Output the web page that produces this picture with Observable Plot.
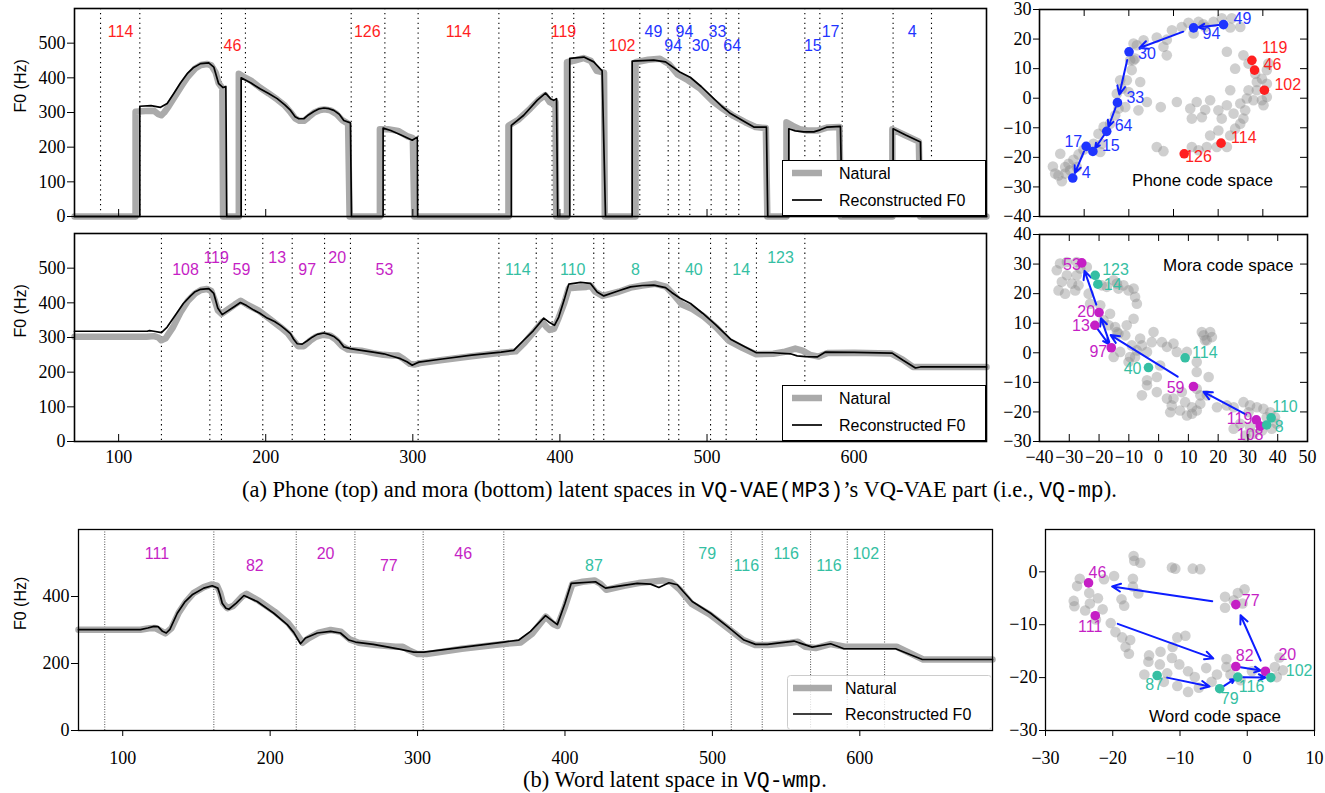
<!DOCTYPE html>
<html><head><meta charset="utf-8">
<script src="https://cdn.jsdelivr.net/npm/d3@7"></script>
<script src="https://cdn.jsdelivr.net/npm/@observablehq/plot@0.6"></script>
<style>
body{margin:0;background:#fff;}
#root{position:relative;width:1325px;height:793px;overflow:hidden;background:#fff;}
.pn{position:absolute;}
.cap{position:absolute;white-space:nowrap;font-family:'Liberation Serif',serif;font-size:22.5px;line-height:26px;color:#000;}
.tt{font-family:'Liberation Mono',monospace;font-size:21.5px;}
</style></head><body>
<div id="root"></div>
<script>
// ---------------- DATA ----------------
const f0Domain = [70, 690];
const f0Ticks = [100, 200, 300, 400, 500, 600];

// Phone panel F0 (frame, Hz)
const phoneNatural = [[70,0],[111.5,0],[111.5,302],[118,304],[124,305],[127,295],[129,292],[131,300],[134,318],[138,345],[143,378],[147,403],[152,427],[156,437],[160,440],[163,436],[166,415],[168,385],[170.5,370],[171,0],[181.7,0],[181.7,412],[185,403],[190,392],[196,372],[202,355],[208,337],[213,320],[217,300],[220,283],[223,276],[226,276],[229,286],[233,300],[237,307],[240,309],[244,306],[248,296],[252,278],[256,268],[257,0],[277.6,0],[277.6,252],[283,252],[290,247],[296,232],[300,226],[301,0],[365,0],[365,262],[372,280],[380,312],[386,338],[390,350],[393,330],[395.5,325],[397,330],[397.5,0],[404.8,0],[404.8,445],[410,450],[416,457],[421,449],[425,420],[430,415],[430.5,0],[451.4,0],[451.4,445],[460,452],[468,455],[474,440],[480,410],[487,393],[495,370],[504,332],[511,310],[518,290],[526,272],[533,258],[540,255],[541,0],[554,0],[554,272],[558,262],[563,252],[568,248],[575,248],[582,257],[590,258],[591,0],[626,0],[626,252],[634,236],[644,216],[645,0],[690,0]];
const phoneRecon = [[70,0],[114.4,0],[114.4,318],[122,320],[128.5,315],[133,326],[137.5,355],[142,385],[146.6,412],[151,430],[155.7,441],[161.3,443],[164.7,431],[168,383],[171,372],[172.9,375],[173.5,0],[183.3,0],[183.3,400],[190,385],[196.4,368],[202,355],[207.8,340],[213,322],[216.9,306],[220,288],[222.5,282],[225.9,282],[229,293],[232.7,303],[236,310],[239.5,313],[243,311],[246.3,306],[250,295],[253.1,277],[257.6,270],[258.3,0],[279.8,0],[279.8,255],[285,248],[292,235],[299.6,220],[303,229],[303.3,0],[367,0],[367,263],[375.4,292],[384.5,335],[390.2,356],[393.6,340],[395.8,335],[397.7,340],[398.5,0],[406.7,0],[406.7,456],[416.3,460],[423,446],[428.7,420],[431,0],[449.1,0],[449.1,448],[463.8,451],[471.8,446],[481.5,417],[488.8,401],[496,375],[504.6,340],[510,318],[516,297],[525,275],[531.8,258],[540.4,258],[541.3,0],[555.6,0],[555.6,253],[560,247],[565.8,244],[572.6,244],[577,250],[581.7,258],[590.7,260],[591.9,0],[626.5,0],[626.5,253],[635,235],[645.1,215],[646,0],[690,0]];
const phoneBounds = [87.7,114.4,169.9,186.2,258.1,281,303.6,358.5,394.7,409.4,429.8,454.3,473.6,480.8,488.3,502.8,513,521.6,566.5,576.7,591.9,626.5,652.6];
const phoneSegLabels = ["114","46","126","114","119","102","49","94","94","30","33","64","15","17","4"];
const phoneSegX = [101.3,177.4,269,331,402.4,442.3,463.6,477,484.7,495.6,507.1,517.1,571.9,584,639.5];
const phoneSegY = [532,491,532,532,532,491,532,491,532,491,532,491,491,532,532];
const phoneSegGroup = ["r","r","r","r","r","r","b","b","b","b","b","b","b","b","b"];

// Mora panel F0
const moraNatural = [[70,302],[119,302],[124,304],[127,300],[129,292],[132,298],[137,330],[142,372],[147,405],[152,427],[156,437],[160,440],[163,434],[165.5,405],[167.5,378],[170,368],[174,380],[179,395],[183,406],[188,393],[195,378],[202,356],[210,330],[215,312],[219,290],[222,275],[226,275],[230,290],[234,302],[239,308],[244,305],[248,293],[252,275],[256,265],[265,262],[273,255],[280,250],[286,248],[290,248],[294,237],[298,224],[301,222],[305,226],[320,235],[340,246],[360,256],[370,260],[376,285],[382,315],[388,345],[391,330],[393,322],[396,325],[399,355],[403,400],[406,442],[412,444],[418,446],[421,449],[424,432],[429,420],[440,432],[448,444],[456,450],[465,455],[472,447],[477,425],[483,395],[490,382],[498,360],[506,330],[515,290],[524,270],[533,252],[545,253],[552,258],[560,268],[565,262],[570,250],[576,245],[582,255],[600,256],[625,254],[633,236],[640,215],[690,215]];
const moraRecon = [[70,318],[119.4,318],[121,320],[124,318],[129.1,314],[133,330],[139.8,372],[144,398],[148.9,420],[152,432],[155.7,439],[161.3,441],[164.7,427],[167.4,385],[170.4,366],[174,376],[178.3,388],[182.8,401],[187,392],[191.9,379],[196,370],[201,356],[206,346],[210,335],[213,325],[216.8,311],[219,295],[221.4,282],[224.8,281],[228,290],[231.6,301],[235,309],[239.5,313],[243,309],[246.3,303],[250,290],[253.1,273],[257.6,268],[265,263],[273,258],[280.3,253],[286,246],[291.6,239],[296,230],[299.6,220],[302,225],[304.1,229],[320,238],[340,249],[360,258],[368.6,263],[375.4,292],[382,320],[389,356],[392.4,345],[396.3,335],[399.2,359],[403,410],[406,454],[414,459],[420.8,456],[425.3,431],[429.8,420],[440,435],[448,446],[456,450],[463.8,451],[471.8,444],[476,430],[481.5,414],[488.8,398],[497,370],[505.8,337],[516,295],[525,275],[533.6,256],[545,256],[556.7,253],[561.3,247],[567,245],[574.9,244],[580.5,258],[600,257],[625.9,255],[633,235],[641.7,212],[645.1,215],[690,215]];
const moraBounds = [129.1,162,169.9,198,218,240,257.6,303.6,358.5,383.9,394.7,423,429.8,474,480.8,502.4,513,533.6,566.5];
const moraSegLabels = ["108","119","59","13","97","20","53","114","110","8","40","14","123"];
const moraSegX = [145.5,166.3,183.5,207.8,228.2,248.6,280.7,371.4,408.7,451.4,491,523.2,550];
const moraSegY = [494,531,494,531,494,531,494,494,494,494,494,494,531];
const moraSegGroup = ["m","m","m","m","m","m","m","t","t","t","t","t","t"];

// Word panel F0
const wordNatural = [[70,301],[112,301],[118,305],[122,306],[126,297],[129,290],[133,305],[138,352],[143,385],[148,410],[155,428],[160,436],[164,432],[166,412],[168,380],[171,365],[175,372],[181,400],[184,408],[192,388],[203,355],[212,322],[218,288],[222,262],[226,275],[233,292],[241,300],[248,295],[254,272],[260,262],[272,255],[285,250],[290,250],[294,240],[300,228],[306,228],[330,244],[358,258],[370,263],[378,290],[387,340],[392,318],[395,312],[400,370],[405,437],[412,444],[420,448],[424,438],[428,420],[440,432],[450,440],[460,445],[466,448],[472,443],[478,420],[486,378],[498,347],[510,307],[521,270],[529,255],[538,255],[553,262],[558,265],[563,250],[570,246],[580,258],[590,250],[625,250],[643,212],[690,212]];
const wordRecon = [[70,301],[112,301],[117,306],[121.1,311],[124,310],[127,296],[129.5,291],[132,302],[137,350],[142,383],[147.1,405],[155,425],[160.7,432],[164.5,425],[166,405],[167.5,380],[170,365],[172,362],[177,380],[182.2,403],[191.2,385],[202.5,350],[211.6,316],[216,293],[220.6,259],[224,276],[232,291],[241,296],[247.7,291],[253.4,270],[257.9,264],[270,257],[288.5,242],[297.5,234],[304.3,234],[330,248],[358.5,264],[368.7,270],[376.6,296],[386.8,343],[394.8,316],[400,380],[404.2,439],[420.7,444],[427.5,425],[449,439],[458.1,437],[463.7,427],[470.5,441],[476.2,435],[486.3,385],[498.8,350],[510.1,311],[521.4,270],[529.3,257],[537.2,257],[555.3,267],[560,260],[567.7,249],[580.2,259],[589.2,244],[624.3,244],[642.4,212],[690,212]];
const wordBounds = [87.8,161.8,217.7,257.5,303.8,358.5,480.6,512.8,533.8,566.6,591.5,616.8];
const wordSegLabels = ["111","82","20","77","46","87","79","116","116","116","102"];
const wordSegX = [123.2,189.6,237.6,280.5,331,419.6,496.5,523,550.1,579.1,604];
const wordSegY = [528,491,528,491,528,491,528,491,528,491,528];
const wordSegGroup = ["m","m","m","m","m","t","t","t","t","t","t"];

// Phone code space
const phoneGray = [[2.1,18.5],[6.6,19.6],[12.5,20.5],[17.0,19.8],[15.5,17.4],[17.0,14.5],[19.3,23.0],[23.7,24.1],[26.7,25.5],[29.0,21.9],[31.2,25.8],[34.2,24.1],[37.9,25.8],[41.6,27.0],[46.1,27.0],[49.9,24.1],[45.4,23.9],[33.4,25.0],[2.8,13.4],[3.6,17.9],[0.6,12.8],[1.3,9.5],[-0.9,6.1],[-3.1,3.2],[-5.4,1.5],[5.1,5.5],[8.1,-1.3],[4.3,-4.1],[-1.6,-3.0],[-6.1,-5.8],[-8.4,-8.6],[-11.3,-9.7],[-13.6,-12.0],[-12.1,-15.4],[-15.8,-15.4],[-12.8,-18.2],[-20.3,-17.4],[-22.5,-19.0],[-24.8,-20.8],[-27.0,-22.2],[-30.7,-18.8],[-34.0,-23.1],[-33.0,-25.5],[-30.0,-28.1],[-28.5,-25.5],[-26.3,-24.4],[-23.3,-23.3],[-31.5,-26.1],[-28.5,-23.3],[-3.9,6.1],[2.1,12.8],[-0.1,2.1],[-4.6,-3.5],[14.3,-3.0],[21.5,-1.3],[27.5,-3.5],[28.2,-6.9],[30.4,-1.3],[32.7,-6.4],[36.4,-0.7],[34.2,-3.9],[40.1,-4.1],[41.6,-6.9],[36.4,-12.6],[40.1,-10.9],[45.4,-12.6],[47.6,-10.3],[49.9,-8.6],[51.3,-6.9],[52.1,-4.1],[49.9,-1.8],[45.4,2.7],[47.6,10.0],[43.9,15.7],[51.3,14.5],[53.6,11.7],[56.6,8.3],[57.3,5.5],[59.6,6.6],[61.8,9.5],[62.5,11.7],[61.8,4.9],[57.3,2.7],[59.6,-0.7],[60.3,-2.4],[55.8,-0.7],[53.6,2.7],[52.8,-0.1],[46.9,-5.2],[43.9,-2.4],[39.4,-16.5],[43.9,-16.5],[34.9,-16.5],[31.2,-17.6],[28.2,-16.5],[12.5,-16.5],[15.5,-17.9],[61.8,0.4]];
const phoneCodes = ["49","94","30","33","64","15","17","4","119","46","102","114","126"];
const phoneCodeX = [42.4,29.0,0.1,-5.1,-9.9,-16.1,-19.1,-25.1,55.1,56.3,60.7,41.3,24.8];
const phoneCodeY = [24.9,23.8,15.7,-1.5,-11.2,-18.0,-16.3,-27.0,12.8,9.5,2.7,-15.2,-18.8];
const phoneCodeGroup = ["b","b","b","b","b","b","b","b","r","r","r","r","r"];
const phonePaths = [["49","94","94","30","33","64","15","17","4"]];

// Mora code space
const moraGray = [[-33.1,30.2],[-30.8,30.7],[-27.5,30.7],[-24.1,29.0],[-34.2,27.9],[-30.8,26.2],[-27.5,26.2],[-32.5,24.0],[-29.1,23.4],[-26.9,22.8],[-33.6,21.1],[-31.4,20.0],[-28.0,21.1],[-23.5,20.0],[-23.0,16.6],[-19.6,16.1],[-26.3,28.5],[-19.1,22.8],[-17.4,22.3],[-15.1,24.5],[-13.5,21.7],[-11.8,22.8],[-10.1,21.1],[-8.4,21.7],[-7.9,18.9],[-7.3,16.6],[-8.4,11.5],[-14.0,23.4],[-16.8,9.3],[-14.6,8.7],[-13.5,6.5],[-10.7,9.3],[-11.2,5.9],[-9.0,2.5],[-6.2,4.8],[-12.9,0.3],[-15.1,-1.4],[-9.6,-1.4],[-10.1,-3.1],[-7.3,0.8],[-3.9,0.3],[-5.6,2.5],[-1.7,7.0],[1.1,3.6],[-2.3,3.6],[5.0,3.1],[2.8,2.0],[6.1,0.3],[9.5,0.3],[12.8,-3.1],[12.8,-6.5],[16.8,-8.2],[15.1,5.9],[16.2,4.2],[17.3,7.0],[14.5,7.0],[17.9,5.3],[15.6,4.2],[0.5,-4.3],[-0.6,-8.2],[-3.9,-9.3],[-3.9,-11.0],[-5.6,-14.4],[-0.6,-13.3],[2.8,-15.5],[4.4,-17.8],[5.0,-15.5],[7.8,-13.3],[8.9,-16.7],[7.2,-19.5],[3.9,-20.1],[11.2,-18.4],[11.2,-20.6],[9.5,-21.2],[12.8,-19.5],[14.0,-17.2],[14.0,-14.4],[16.2,-14.4],[12.8,-12.2],[19.6,-18.4],[22.9,-17.8],[25.2,-18.4],[28.5,-16.7],[30.7,-17.8],[33.0,-18.4],[35.2,-18.9],[37.5,-20.1],[39.1,-21.8],[39.7,-24.0],[36.3,-21.8],[30.2,-20.1],[27.4,-24.0],[25.2,-25.7],[30.7,-25.1],[34.7,-26.3],[38.0,-25.7],[31.9,-27.4],[29.1,-28.0],[-16.3,13.2],[-18.5,11.0],[-14.0,7.0],[-7.9,-1.4]];
const moraCodes = ["53","20","13","97","59","119","108","123","14","114","40","110","8"];
const moraCodeX = [-25.8,-20.0,-21.4,-15.9,11.7,32.8,34.1,-21.3,-20.4,8.9,-3.4,37.8,36.3];
const moraCodeY = [30.4,13.6,9.3,1.7,-11.4,-22.7,-24.8,26.2,23.2,-1.7,-5.0,-22.0,-24.4];
const moraCodeGroup = ["m","m","m","m","m","m","m","t","t","t","t","t","t"];
const moraPaths = [["108","119","59","13","97","20","53"]];

// Word code space
const wordGray = [[-16.9,3.0],[-16.8,2.1],[-15.9,1.7],[-11.2,0.8],[-10.7,0.6],[-8.1,0.6],[-7.0,0.5],[-19.8,-0.8],[-21.3,-1.4],[-24.9,-1.3],[-25.3,-2.7],[-25.8,-5.5],[-25.7,-6.5],[-24.1,-7.3],[-23.4,-6.0],[-22.2,-5.0],[-21.5,-7.1],[-18.7,-5.2],[-18.3,-6.4],[-17.0,-1.3],[-17.0,-2.8],[-16.2,-4.1],[-23.5,-4.0],[-20.3,-9.7],[-19.6,-11.4],[-18.6,-12.4],[-17.4,-12.9],[-18.1,-14.2],[-17.6,-15.5],[-14.6,-15.8],[-14.7,-17.0],[-12.9,-15.1],[-13.0,-17.5],[-11.2,-16.3],[-10.1,-17.5],[-10.4,-12.4],[-9.2,-12.1],[-11.1,-14.2],[-15.3,-19.4],[-11.9,-19.2],[-12.4,-20.8],[-10.4,-21.6],[-8.8,-18.8],[-8.8,-22.7],[-7.2,-21.9],[-7.8,-19.9],[-6.1,-18.2],[-5.3,-20.8],[-4.5,-19.4],[-3.1,-16.5],[-3.1,-18.0],[-2.5,-19.4],[0.7,-18.8],[4.1,-18.0],[4.8,-16.2],[5.3,-18.6],[4.4,-19.9],[-3.3,-4.7],[-3.3,-6.8],[-1.4,-4.0],[-0.4,-3.3],[-0.7,-6.0],[-2.0,-5.4],[-22.5,-9.0],[-1.0,-20.5]];
const wordCodes = ["46","111","77","82","20","87","79","116","102"];
const wordCodeX = [-23.6,-22.6,-1.7,-1.7,2.7,-13.4,-4.1,-1.4,3.5];
const wordCodeY = [-2.1,-8.3,-6.2,-17.9,-18.8,-19.6,-22.1,-19.9,-20.0];
const wordCodeGroup = ["m","m","m","m","m","t","t","t","t"];
const wordPaths = [["111","82","20","77","46"],["87","79","116","116","116","102"]];

// ---------------- STYLE ----------------
const SERIF = "'Liberation Serif','DejaVu Serif',serif";
const SANS = "'Liberation Sans',Arial,sans-serif";
const COLORS = {r: "#ff1f1f", b: "#1f35ff", m: "#c51fc5", t: "#35bfa3"};
const ARROW = "#0d1dff";
const minus = d => (d < 0 ? "\u2212" + Math.abs(d) : String(d));

// per-label offsets for scatter annotations (layout only)
const phoneLbl = {dx:[10,9,9,9,8,9,-4,9,10,9,10,10,1], dy:[-6,6,2,-5,-5,-6,-5,-5,-12,-5,-5,-5,3],
  anchor:["start","start","start","start","start","start","end","start","start","start","start","start","start"]};
const moraLbl = {dx:[-1,-4,-5,-4,-9,-4,-10,7,6,7,-7,1,8], dy:[2,-1,1,4,1,-1,9,-5,1,-5,1,-11,2],
  anchor:["end","end","end","end","end","end","middle","start","start","start","end","start","start"]};
const wordLbl = {dx:[0,-5,6,0,13,-3,10,1,15], dy:[-10,11,-4,-11,-16,9,10,10,-7],
  anchor:["start","middle","start","start","start","middle","middle","start","start"]};

const root = document.getElementById("root");
function place(el, left, top) {
  const d = document.createElement("div");
  d.className = "pn"; d.style.left = left + "px"; d.style.top = top + "px";
  d.appendChild(el); root.appendChild(d); return d;
}

function f0Panel(o) {
  const fw = o.width - o.mL - o.mR, fh = o.height - o.mT - o.mB;
  const segs = o.segLabels.map((t, i) => ({t, x: o.segX[i], y: o.segY[i], c: COLORS[o.segGroup[i]]}));
  const marks = [
    Plot.ruleX(o.bounds, {x: d => d, stroke: o.fine ? "#222" : "#000", strokeWidth: o.fine ? 0.8 : 1.1,
      strokeDasharray: o.fine ? "1,1.5" : "1.3,3.6"}),
    Plot.line(o.natural, {x: d => d[0], y: d => d[1], stroke: "#aaaaaa", strokeWidth: 6.5, strokeLinejoin: "round"}),
    Plot.line(o.recon, {x: d => d[0], y: d => d[1], stroke: "#000", strokeWidth: 1.7, strokeLinejoin: "round"}),
    Plot.text(segs, {x: "x", y: "y", text: "t", fill: "c", fontFamily: SANS, fontSize: 16}),
    Plot.axisY({ticks: o.yTicks, tickSize: 7, tickPadding: 2, fontSize: 18, fontFamily: SERIF, label: null}),
    Plot.text(["F0 (Hz)"], {frameAnchor: "left", dx: o.labelDx, rotate: -90, fontFamily: SANS, fontSize: 16}),
    Plot.frame({stroke: "#000", strokeWidth: o.fine ? 1.3 : 1.6})
  ];
  if (o.outTicks) {
    marks.push(Plot.axisX({ticks: f0Ticks, tickSize: 6, tickPadding: 15, fontSize: 18, fontFamily: SERIF, label: null}));
  } else {
    marks.push(Plot.tickX(f0Ticks, {x: d => d, insetTop: fh - 7, stroke: "#000"}));
    if (o.xLabels) marks.push(Plot.axisX({ticks: f0Ticks, tickSize: 0, tickPadding: 9, fontSize: 18, fontFamily: SERIF, label: null}));
  }
  return Plot.plot({
    width: o.width, height: o.height, marginLeft: o.mL, marginRight: o.mR, marginTop: o.mT, marginBottom: o.mB,
    x: {domain: f0Domain, axis: null}, y: {domain: [0, 600], axis: null}, color: {type: "identity"},
    style: {background: "transparent", fontFamily: SERIF, fontSize: "18px", overflow: "visible"},
    marks
  });
}

function arrowSegs(paths, codes, xs, ys, shrink) {
  const out = [];
  for (const p of paths) for (let i = 0; i < p.length - 1; i++) {
    const a = codes.indexOf(p[i]), b = codes.indexOf(p[i + 1]);
    if (a === b) continue;
    const dx = xs[b] - xs[a], dy = ys[b] - ys[a];
    out.push({x1: xs[a] + dx * shrink, y1: ys[a] + dy * shrink, x2: xs[b] - dx * shrink, y2: ys[b] - dy * shrink});
  }
  return out;
}

function scatterPanel(o) {
  const fw = o.width - o.mL - o.mR, fh = o.height - o.mT - o.mB;
  const pts = o.codes.map((c, i) => ({c, x: o.cx[i], y: o.cy[i], col: COLORS[o.cg[i]]}));
  const marks = [
    Plot.dot(o.gray, {x: d => d[0], y: d => d[1], r: 5.3, fill: "#8c8c8c", fillOpacity: 0.42, stroke: "none"}),
    Plot.arrow(arrowSegs(o.paths, o.codes, o.cx, o.cy, 0.16), {x1: "x1", y1: "y1", x2: "x2", y2: "y2",
      stroke: ARROW, strokeWidth: 2, headLength: 7, headAngle: 50}),
  ];
  pts.forEach((p, i) => {
    marks.push(Plot.text([p], {x: "x", y: "y", text: "c", fill: "col", dx: o.lbl.dx[i], dy: o.lbl.dy[i],
      textAnchor: o.lbl.anchor[i], fontFamily: SANS, fontSize: 16}));
  });
  marks.push(Plot.dot(pts, {x: "x", y: "y", r: 4.8, fill: "col", stroke: "none"}));
  marks.push(Plot.text([o.title], {frameAnchor: o.titleAnchor, textAnchor: o.titleTextAnchor, dx: o.titleDx, dy: o.titleDy,
    fontFamily: SANS, fontSize: 17, fill: "#000"}));
  marks.push(Plot.axisY({ticks: o.yTicks, tickSize: 6, tickPadding: 2, tickFormat: minus, fontSize: 18, fontFamily: SERIF, label: null}));
  if (o.inner) {
    marks.push(Plot.tickX(o.xTicks, {x: d => d, insetTop: fh - 7, stroke: "#000"}));
    marks.push(Plot.tickX(o.xTicks, {x: d => d, insetBottom: fh - 7, stroke: "#000"}));
    marks.push(Plot.tickY(o.yTicks, {y: d => d, insetLeft: fw - 7, stroke: "#000"}));
    if (o.xLabels) marks.push(Plot.axisX({ticks: o.xTicks, tickSize: 0, tickPadding: 9, tickFormat: minus, fontSize: 18, fontFamily: SERIF, label: null}));
  } else {
    marks.push(Plot.axisX({ticks: o.xTicks, tickSize: 6, tickPadding: 15, tickFormat: minus, fontSize: 18, fontFamily: SERIF, label: null}));
  }
  marks.push(Plot.frame({stroke: "#000", strokeWidth: o.inner ? 1.6 : 1.3}));
  return Plot.plot({
    width: o.width, height: o.height, marginLeft: o.mL, marginRight: o.mR, marginTop: o.mT, marginBottom: o.mB,
    x: {domain: o.xDomain, axis: null}, y: {domain: o.yDomain, axis: null}, color: {type: "identity"},
    style: {background: "transparent", fontFamily: SERIF, fontSize: "18px", overflow: "visible"},
    marks
  });
}

function legend(left, top, w, h, light) {
  const ns = "http://www.w3.org/2000/svg";
  const svg = document.createElementNS(ns, "svg");
  svg.setAttribute("width", w); svg.setAttribute("height", h);
  const l0 = light ? 6 : 10, l1 = light ? 45 : 40, tx = light ? 58 : 57;
  const r1 = 13, r2 = light ? 39 : 40;
  svg.innerHTML =
    `<rect x="0.5" y="0.5" width="${w - 1}" height="${h - 1}" rx="${light ? 3 : 0}" fill="${light ? "rgba(255,255,255,0.8)" : "#fff"}" stroke="${light ? "#cccccc" : "#000"}" stroke-width="1"/>` +
    `<line x1="${l0}" x2="${l1}" y1="${r1}" y2="${r1}" stroke="#aaaaaa" stroke-width="6.5"/>` +
    `<line x1="${l0}" x2="${l1}" y1="${r2}" y2="${r2}" stroke="#000" stroke-width="1.7"/>` +
    `<text x="${tx}" y="${r1}" dy="0.35em" font-family="${SANS}" font-size="16">Natural</text>` +
    `<text x="${tx}" y="${r2}" dy="0.35em" font-family="${SANS}" font-size="16">Reconstructed F0</text>`;
  place(svg, left, top);
}

// ---------------- PANELS ----------------
place(f0Panel({width: 1000, height: 235, mL: 74, mR: 14, mT: 8, mB: 19, natural: phoneNatural, recon: phoneRecon,
  bounds: phoneBounds, segLabels: phoneSegLabels, segX: phoneSegX, segY: phoneSegY, segGroup: phoneSegGroup,
  yTicks: [0,100,200,300,400,500], labelDx: -54, xLabels: false}), 0, 0);
place(f0Panel({width: 1000, height: 250, mL: 74, mR: 14, mT: 8, mB: 34, natural: moraNatural, recon: moraRecon,
  bounds: moraBounds, segLabels: moraSegLabels, segX: moraSegX, segY: moraSegY, segGroup: moraSegGroup,
  yTicks: [0,100,200,300,400,500], labelDx: -54, xLabels: true}), 0, 225);
place(f0Panel({width: 1000, height: 250, mL: 78, mR: 8, mT: 14, mB: 35, natural: wordNatural, recon: wordRecon,
  bounds: wordBounds, segLabels: wordSegLabels, segX: wordSegX, segY: wordSegY, segGroup: wordSegGroup,
  yTicks: [0,200,400], labelDx: -58, fine: true, outTicks: true}), 0, 515);

place(scatterPanel({width: 325, height: 235, mL: 39, mR: 18, mT: 9, mB: 19, xDomain: [-40, 80], yDomain: [-40, 30],
  xTicks: [-20,0,20,40,60], yTicks: d3.range(-40, 31, 10), gray: phoneGray, codes: phoneCodes, cx: phoneCodeX, cy: phoneCodeY,
  cg: phoneCodeGroup, paths: phonePaths, lbl: phoneLbl, inner: true, xLabels: false,
  title: "Phone code space", titleAnchor: "bottom", titleTextAnchor: "middle", titleDx: 29, titleDy: -31}), 1000, 0);
place(scatterPanel({width: 325, height: 250, mL: 39, mR: 18, mT: 9, mB: 34, xDomain: [-40, 50], yDomain: [-30, 40],
  xTicks: d3.range(-40, 51, 10), yTicks: d3.range(-30, 41, 10), gray: moraGray, codes: moraCodes, cx: moraCodeX, cy: moraCodeY,
  cg: moraCodeGroup, paths: moraPaths, lbl: moraLbl, inner: true, xLabels: true,
  title: "Mora code space", titleAnchor: "top-right", titleTextAnchor: "end", titleDx: -14, titleDy: 24}), 1000, 225);
place(scatterPanel({width: 325, height: 250, mL: 45, mR: 11, mT: 14, mB: 35, xDomain: [-30, 10], yDomain: [-30, 8],
  xTicks: d3.range(-30, 11, 10), yTicks: d3.range(-30, 1, 10), gray: wordGray, codes: wordCodes, cx: wordCodeX, cy: wordCodeY,
  cg: wordCodeGroup, paths: wordPaths, lbl: wordLbl, inner: false,
  title: "Word code space", titleAnchor: "bottom", titleTextAnchor: "middle", titleDx: 35, titleDy: -9}), 1000, 515);

legend(782, 160, 204, 56, false);
legend(782, 385, 204, 56, false);
legend(787, 675, 205, 55, true);

// ---------------- CAPTIONS ----------------
const capA = document.createElement("div");
capA.className = "cap"; capA.style.left = "242px"; capA.style.top = "477px";
capA.innerHTML = '(a) Phone (top) and mora (bottom) latent spaces in <span class="tt">VQ-VAE(MP3)</span>\u2019s VQ-VAE part (i.e., <span class="tt">VQ-mp</span>).';
root.appendChild(capA);
const capB = document.createElement("div");
capB.className = "cap"; capB.style.left = "523px"; capB.style.top = "767px";
capB.innerHTML = '(b) Word latent space in <span class="tt">VQ-wmp</span>.';
root.appendChild(capB);
</script>
</body></html>
